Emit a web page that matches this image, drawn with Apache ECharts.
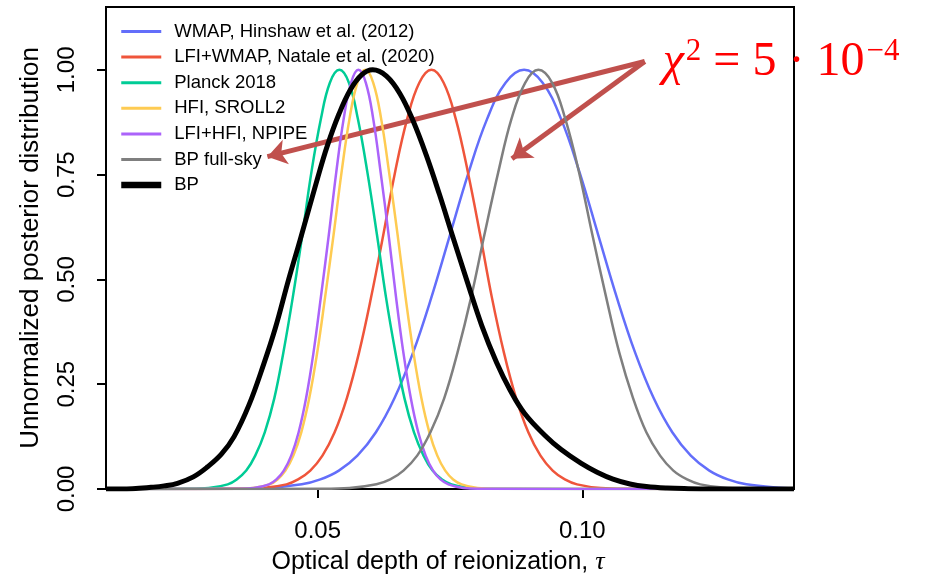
<!DOCTYPE html>
<html>
<head>
<meta charset="utf-8">
<script src="https://cdn.jsdelivr.net/npm/echarts@6/dist/echarts.min.js"></script>
<style>
  html, body { margin: 0; padding: 0; background: #ffffff; }
  #chart { width: 932px; height: 580px; }
</style>
</head>
<body>
<div id="chart"></div>
<script>
// Posterior curves for the optical depth of reionization (tau, unnormalized posterior)
const wmapTau = [0.010, 0.0330, 0.0400, 0.0470, 0.0505, 0.0540, 0.0575, 0.0610, 0.0645, 0.0680, 0.0715, 0.0750, 0.0785, 0.0820, 0.0855, 0.0890, 0.0925, 0.0960, 0.0995, 0.1030, 0.1065, 0.1100, 0.1135, 0.1170, 0.1205, 0.1240, 0.1275, 0.1310, 0.1380, 0.1400];
const wmapPost = [0, 0.0003, 0.0022, 0.0111, 0.0228, 0.0439, 0.0796, 0.1353, 0.2163, 0.3247, 0.4578, 0.6065, 0.7548, 0.8825, 0.9692, 1.0, 0.9692, 0.8825, 0.7548, 0.6065, 0.4578, 0.3247, 0.2163, 0.1353, 0.0796, 0.0439, 0.0228, 0.0111, 0.0022, 0.0013];

const lfiWmapTau = [0.010, 0.0349, 0.0395, 0.0441, 0.0463, 0.0486, 0.0509, 0.0532, 0.0555, 0.0578, 0.0601, 0.0624, 0.0646, 0.0669, 0.0692, 0.0715, 0.0738, 0.0761, 0.0784, 0.0807, 0.0829, 0.0852, 0.0875, 0.0898, 0.0921, 0.0944, 0.0967, 0.0990, 0.1035, 0.1081, 0.1400];
const lfiWmapPost = [0, 0.0003, 0.0022, 0.0111, 0.0228, 0.0439, 0.0796, 0.1353, 0.2163, 0.3247, 0.4578, 0.6065, 0.7548, 0.8825, 0.9692, 1.0, 0.9692, 0.8825, 0.7548, 0.6065, 0.4578, 0.3247, 0.2163, 0.1353, 0.0796, 0.0439, 0.0228, 0.0111, 0.0022, 0.0003, 0];

const planckTau = [0.010, 0.0259, 0.0294, 0.0330, 0.0347, 0.0365, 0.0382, 0.0400, 0.0418, 0.0435, 0.0453, 0.0471, 0.0488, 0.0506, 0.0523, 0.0541, 0.0559, 0.0576, 0.0594, 0.0612, 0.0629, 0.0647, 0.0664, 0.0682, 0.0700, 0.0717, 0.0735, 0.0753, 0.0788, 0.0823, 0.1400];
const planckPost = [0, 0.0003, 0.0022, 0.0111, 0.0228, 0.0439, 0.0796, 0.1353, 0.2163, 0.3247, 0.4578, 0.6065, 0.7548, 0.8825, 0.9692, 1.0, 0.9692, 0.8825, 0.7548, 0.6065, 0.4578, 0.3247, 0.2163, 0.1353, 0.0796, 0.0439, 0.0228, 0.0111, 0.0022, 0.0003, 0];

const sroll2Tau = [0.010, 0.0348, 0.0378, 0.0409, 0.0424, 0.0439, 0.0454, 0.0469, 0.0484, 0.0499, 0.0514, 0.0530, 0.0545, 0.0560, 0.0575, 0.0590, 0.0605, 0.0620, 0.0635, 0.0651, 0.0666, 0.0681, 0.0696, 0.0711, 0.0726, 0.0741, 0.0756, 0.0772, 0.0802, 0.0832, 0.1400];
const sroll2Post = [0, 0.0003, 0.0022, 0.0111, 0.0228, 0.0439, 0.0796, 0.1353, 0.2163, 0.3247, 0.4578, 0.6065, 0.7548, 0.8825, 0.9692, 1.0, 0.9692, 0.8825, 0.7548, 0.6065, 0.4578, 0.3247, 0.2163, 0.1353, 0.0796, 0.0439, 0.0228, 0.0111, 0.0022, 0.0003, 0];

const npipeTau = [0.010, 0.0351, 0.0379, 0.0408, 0.0422, 0.0436, 0.0450, 0.0464, 0.0478, 0.0492, 0.0506, 0.0521, 0.0535, 0.0549, 0.0563, 0.0577, 0.0591, 0.0605, 0.0619, 0.0634, 0.0648, 0.0662, 0.0676, 0.0690, 0.0704, 0.0718, 0.0732, 0.0747, 0.0775, 0.0803, 0.1400];
const npipePost = [0, 0.0003, 0.0022, 0.0111, 0.0228, 0.0439, 0.0796, 0.1353, 0.2163, 0.3247, 0.4578, 0.6065, 0.7548, 0.8825, 0.9692, 1.0, 0.9692, 0.8825, 0.7548, 0.6065, 0.4578, 0.3247, 0.2163, 0.1353, 0.0796, 0.0439, 0.0228, 0.0111, 0.0022, 0.0003, 0];

const bpFullTau = [0.010, 0.0509, 0.0560, 0.0611, 0.0637, 0.0662, 0.0688, 0.0713, 0.0739, 0.0764, 0.0790, 0.0815, 0.0841, 0.0866, 0.0892, 0.0917, 0.0943, 0.0968, 0.0994, 0.1019, 0.1045, 0.1070, 0.1096, 0.1121, 0.1147, 0.1172, 0.1198, 0.1223, 0.1274, 0.1325, 0.1400];
const bpFullPost = [0, 0.0003, 0.0022, 0.0111, 0.0228, 0.0439, 0.0796, 0.1353, 0.2163, 0.3247, 0.4578, 0.6065, 0.7548, 0.8825, 0.9692, 1.0, 0.9692, 0.8825, 0.7548, 0.6065, 0.4578, 0.3247, 0.2163, 0.1353, 0.0796, 0.0439, 0.0228, 0.0111, 0.0022, 0.0003, 0];

const bpTau = [0.010, 0.0150, 0.0185, 0.0210, 0.0235, 0.0265, 0.0292, 0.0318, 0.0342, 0.0370, 0.0398, 0.0420, 0.0445, 0.0467, 0.0499, 0.0518, 0.0540, 0.0562, 0.0583, 0.0604, 0.0630, 0.0656, 0.0680, 0.0705, 0.0730, 0.0755, 0.0783, 0.0810, 0.0838, 0.0864, 0.0891, 0.0930, 0.0960, 0.0998, 0.1028, 0.1058, 0.1090, 0.1121, 0.1160, 0.1200, 0.1250, 0.1400];
const bpPost = [0, 0.0008, 0.004, 0.0074, 0.0136, 0.029, 0.053, 0.083, 0.125, 0.200, 0.298, 0.384, 0.4995, 0.595, 0.738, 0.818, 0.894, 0.953, 0.988, 1.0, 0.985, 0.942, 0.879, 0.797, 0.703, 0.603, 0.493, 0.390, 0.302, 0.235, 0.180, 0.127, 0.094, 0.061, 0.040, 0.0235, 0.012, 0.0058, 0.0022, 0.0008, 0.0002, 0];

const seriesNames = [
  'WMAP, Hinshaw et al. (2012)',
  'LFI+WMAP, Natale et al. (2020)',
  'Planck 2018',
  'HFI, SROLL2',
  'LFI+HFI, NPIPE',
  'BP full-sky',
  'BP'
];

const xTicks = [0.05, 0.10];
const yTicks = [0, 0.25, 0.50, 0.75, 1.00];

const xTitle = 'Optical depth of reionization, ';
const yTitle = 'Unnormalized posterior distribution';

// Annotation: two arrows from a common origin, in data coordinates
const arrowFrom = [0.1118, 1.02];
const arrowTargets = [[0.0405, 0.793], [0.0867, 0.788]];

const FONT = 'Liberation Sans';
const SERIF = 'Liberation Serif';

const styles = [
  { color: '#636efa', width: 2.5 },
  { color: '#ef553b', width: 2.5 },
  { color: '#00cc96', width: 2.5 },
  { color: '#fecb52', width: 2.5 },
  { color: '#ab63fa', width: 2.5 },
  { color: '#7f7f7f', width: 2.5 },
  { color: '#000000', width: 5 }
];

const curveData = [
  [wmapTau, wmapPost],
  [lfiWmapTau, lfiWmapPost],
  [planckTau, planckPost],
  [sroll2Tau, sroll2Post],
  [npipeTau, npipePost],
  [bpFullTau, bpFullPost],
  [bpTau, bpPost]
];

function zip(t, p) { return t.map((x, i) => [x, p[i]]); }

const series = curveData.map((c, i) => ({
  type: 'line',
  name: seriesNames[i],
  data: zip(c[0], c[1]),
  symbol: 'none',
  showSymbol: false,
  smooth: 0.4,
  clip: true,
  z: 2 + i,
  lineStyle: { color: styles[i].color, width: styles[i].width },
  itemStyle: { color: styles[i].color },
  emphasis: { disabled: true }
}));

series[series.length - 1].markLine = {
  silent: true,
  animation: false,
  symbol: ['none', 'arrow'],
  symbolSize: 19,
  label: { show: false },
  lineStyle: { color: '#c0504d', width: 5, type: 'solid' },
  emphasis: { disabled: true },
  data: arrowTargets.map(t => [{ coord: arrowFrom }, { coord: t }])
};

const chart = echarts.init(document.getElementById('chart'), null, { renderer: 'canvas' });

chart.setOption({
  animation: false,
  backgroundColor: '#ffffff',
  grid: {
    left: 106, right: 138, top: 7, bottom: 91,
    show: true, borderColor: '#000000', borderWidth: 2, backgroundColor: 'transparent'
  },
  legend: {
    data: seriesNames.map((n, i) => ({
      name: n,
      lineStyle: { width: i === seriesNames.length - 1 ? 6.5 : 3 }
    })),
    orient: 'vertical',
    left: 113,
    top: 17,
    itemWidth: 40,
    itemHeight: 14,
    itemGap: 6.6,
    itemStyle: { opacity: 0 },
    textStyle: { fontFamily: FONT, fontSize: 18.5, color: '#000000', lineHeight: 18, padding: [0, 0, 0, 8] }
  },
  xAxis: {
    type: 'value',
    min: 0.01,
    max: 0.14,
    axisLine: { show: true, onZero: false, lineStyle: { color: '#000000', width: 2 } },
    axisTick: { show: true, inside: false, length: 9, customValues: xTicks, lineStyle: { color: '#000000', width: 2 } },
    axisLabel: {
      customValues: xTicks,
      formatter: v => v.toFixed(2),
      fontFamily: FONT, fontSize: 24, color: '#000000', margin: 30
    },
    splitLine: { show: false },
    name: xTitle + '{t|τ}',
    nameLocation: 'middle',
    nameGap: 60,
    nameTextStyle: {
      fontFamily: FONT, fontSize: 25, color: '#000000',
      padding: [0, 24, 0, 0],
      rich: { t: { fontFamily: SERIF, fontStyle: 'italic', fontSize: 26, color: '#000000' } }
    }
  },
  yAxis: {
    type: 'value',
    min: 0,
    max: 1.15,
    axisLine: { show: true, lineStyle: { color: '#000000', width: 2 } },
    axisTick: { show: true, inside: false, length: 9, customValues: yTicks, lineStyle: { color: '#000000', width: 2 } },
    axisLabel: {
      customValues: yTicks,
      rotate: 90,
      formatter: v => v.toFixed(2),
      fontFamily: FONT, fontSize: 24, color: '#000000', margin: 27
    },
    splitLine: { show: false },
    name: yTitle,
    nameLocation: 'middle',
    nameGap: 62,
    nameTextStyle: { fontFamily: FONT, fontSize: 26, color: '#000000' }
  },
  series: series
});

// Chi-square annotation next to the arrows' common origin
const origin = chart.convertToPixel({ gridIndex: 0 }, arrowFrom);
chart.setOption({
  graphic: [{
    type: 'text',
    x: origin[0] + 18,
    y: origin[1],
    z: 100,
    silent: true,
    style: {
      text: '{c|χ}{s|2}{m| = 5 · 10}{s|−4}',
      verticalAlign: 'middle',
      fill: '#ff0000',
      rich: {
        c: { fontFamily: SERIF, fontStyle: 'italic', fontSize: 48, fill: '#ff0000', lineHeight: 50, verticalAlign: 'bottom' },
        m: { fontFamily: SERIF, fontSize: 48, fill: '#ff0000', lineHeight: 50, verticalAlign: 'bottom' },
        s: { fontFamily: SERIF, fontSize: 31, fill: '#ff0000', lineHeight: 30, verticalAlign: 'top', padding: [0, 0, 0, 2] }
      }
    }
  }]
});
</script>
</body>
</html>
